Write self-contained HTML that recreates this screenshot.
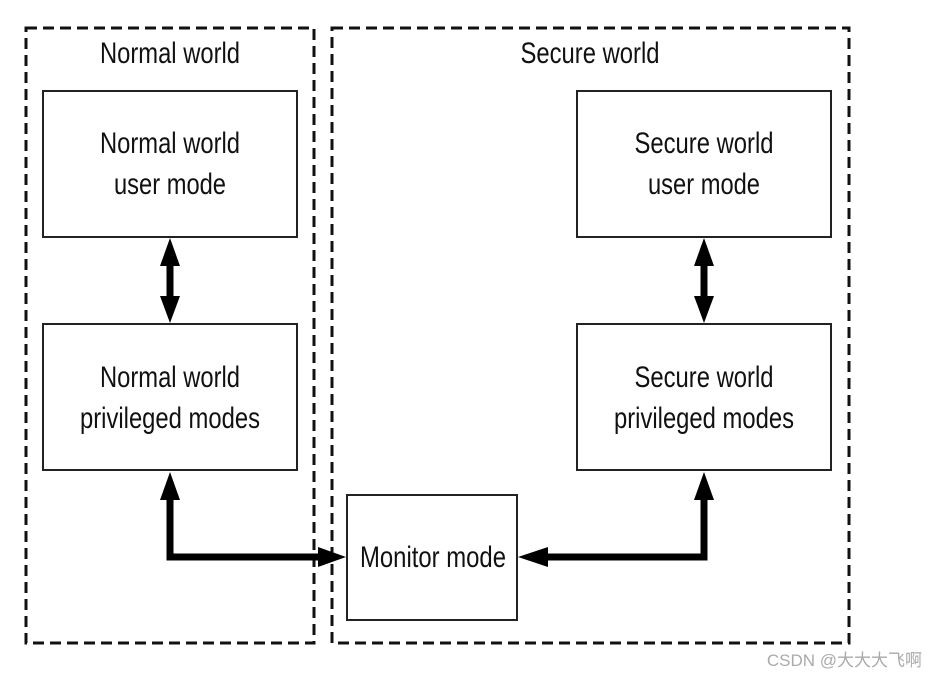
<!DOCTYPE html>
<html><head><meta charset="utf-8"><style>
html,body{margin:0;padding:0;background:#fff;}
svg{display:block;}
text{font-family:"Liberation Sans",sans-serif;font-size:30px;fill:#111;}
</style></head><body>
<svg width="938" height="677" viewBox="0 0 938 677" xmlns="http://www.w3.org/2000/svg">
<rect x="0" y="0" width="938" height="677" fill="#fff"/>
<g fill="none" stroke="#111" stroke-width="3" stroke-dasharray="11,6">
<rect x="26" y="28" width="288" height="615"/>
<rect x="332" y="28" width="517" height="615"/>
</g>
<g fill="#fff" stroke="#222" stroke-width="2">
<rect x="43" y="91" width="254" height="146"/>
<rect x="43" y="324" width="254" height="146"/>
<rect x="577" y="91" width="254" height="146"/>
<rect x="577" y="324" width="254" height="146"/>
<rect x="347" y="495" width="170" height="125"/>
</g>
<g stroke="#000" stroke-width="7" fill="none">
<line x1="170" y1="264" x2="170" y2="298"/>
<line x1="704" y1="264" x2="704" y2="298"/>
<polyline points="170,500 170,557 318,557"/>
<polyline points="704,500 704,557 548,557"/>
</g>
<g fill="#000">
<polygon points="170,238 160,266 180,266"/>
<polygon points="170,323 160,296 180,296"/>
<polygon points="704,238 694,266 714,266"/>
<polygon points="704,323 694,296 714,296"/>
<polygon points="170,472 160,500 180,500"/>
<polygon points="704,472 694,500 714,500"/>
<polygon points="346,557 318,547 318,567"/>
<polygon points="518,557 548,547 548,567"/>
</g>
<g text-anchor="middle" lengthAdjust="spacingAndGlyphs">
<text x="170" y="63" textLength="140" lengthAdjust="spacingAndGlyphs">Normal world</text>
<text x="590" y="63" textLength="139" lengthAdjust="spacingAndGlyphs">Secure world</text>
<text x="170" y="153" textLength="140" lengthAdjust="spacingAndGlyphs">Normal world</text>
<text x="170" y="194" textLength="112" lengthAdjust="spacingAndGlyphs">user mode</text>
<text x="704" y="153" textLength="139" lengthAdjust="spacingAndGlyphs">Secure world</text>
<text x="704" y="194" textLength="112" lengthAdjust="spacingAndGlyphs">user mode</text>
<text x="170" y="387" textLength="140" lengthAdjust="spacingAndGlyphs">Normal world</text>
<text x="170" y="428" textLength="180" lengthAdjust="spacingAndGlyphs">privileged modes</text>
<text x="704" y="387" textLength="139" lengthAdjust="spacingAndGlyphs">Secure world</text>
<text x="704" y="428" textLength="180" lengthAdjust="spacingAndGlyphs">privileged modes</text>
<text x="433" y="567" textLength="146" lengthAdjust="spacingAndGlyphs">Monitor mode</text>
</g>
<text x="922" y="666" text-anchor="end" style="font-family:'Liberation Sans','Noto Sans CJK SC',sans-serif;font-size:17px;fill:#aaa;">CSDN @大大大飞啊</text>
</svg>
</body></html>
